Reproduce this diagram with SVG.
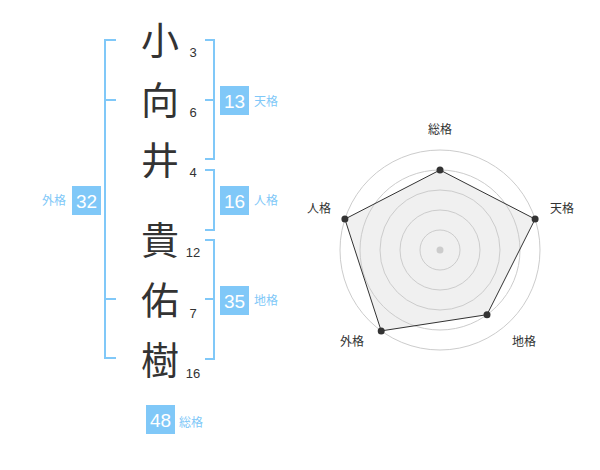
<svg xmlns="http://www.w3.org/2000/svg" width="600" height="470" viewBox="0 0 600 470">
<style>
.ch{font-family:"Noto Sans CJK JP","Noto Sans CJK SC",sans-serif;font-size:38px;fill:#333;text-anchor:middle}
.num{font-family:"Liberation Sans",Arial,sans-serif;font-size:13px;fill:#333;text-anchor:middle}
.br{fill:none;stroke:#80c8f8;stroke-width:2}
.box{fill:#80c8f8}
.bt{font-family:"Liberation Sans",Arial,sans-serif;font-size:19px;fill:#fff;text-anchor:middle}
.lb{font-family:"Noto Sans CJK JP","Noto Sans CJK SC",sans-serif;font-size:12px;fill:#80c8f8}
.rl{font-family:"Noto Sans CJK JP","Noto Sans CJK SC",sans-serif;font-size:12px;fill:#333;text-anchor:middle}
.ring{fill:none;stroke:#ccc;stroke-width:1}
.pt{fill:#333}
</style>
<rect width="600" height="470" fill="#fff"/>
<g id="connectors">
<path class="br" d="M116,40 H105 V358 H116 M105,100 H116 M105,299 H116"/>
<path class="br" d="M205,40 H214 V159 H205 M205,100 H214"/>
<path class="br" d="M205,170 H214 V230 H205"/>
<path class="br" d="M205,240 H214 V359 H205 M205,299 H214"/>
</g>
<g id="chars">
<g id="c1"><text class="ch" x="160" y="54">小</text><text class="num" x="193" y="57">3</text></g>
<g id="c2"><text class="ch" x="160" y="114">向</text><text class="num" x="193" y="117">6</text></g>
<g id="c3"><text class="ch" x="160" y="174">井</text><text class="num" x="193" y="177">4</text></g>
<g id="c4"><text class="ch" x="160" y="254">貴</text><text class="num" x="193" y="257">12</text></g>
<g id="c5"><text class="ch" x="160" y="314">佑</text><text class="num" x="193" y="318">7</text></g>
<g id="c6"><text class="ch" x="160" y="374">樹</text><text class="num" x="193" y="378">16</text></g>
</g>
<g id="tenkaku"><rect class="box" x="220" y="86" width="29" height="29"/><text class="bt" x="234.5" y="107.5">13</text><text class="lb" x="254" y="105.5">天格</text></g>
<g id="jinkaku"><rect class="box" x="220" y="186" width="29" height="29"/><text class="bt" x="234.5" y="207.5">16</text><text class="lb" x="254" y="205">人格</text></g>
<g id="chikaku"><rect class="box" x="220" y="286" width="29" height="29"/><text class="bt" x="234.5" y="307.5">35</text><text class="lb" x="254" y="305">地格</text></g>
<g id="gaikaku"><rect class="box" x="72" y="186" width="29" height="29"/><text class="bt" x="86.5" y="207.5">32</text><text class="lb" x="66" y="205" text-anchor="end">外格</text></g>
<g id="soukaku"><rect class="box" x="146" y="405" width="29" height="29"/><text class="bt" x="160.5" y="426.5">48</text><text class="lb" x="179" y="427">総格</text></g>
<g id="radar">
<polygon points="440,170 535.1,219.1 487,314.7 381.2,330.9 344.9,219.1" fill="#f0f0f0" stroke="none"/>
<circle class="ring" cx="440" cy="250" r="20"/>
<circle class="ring" cx="440" cy="250" r="40"/>
<circle class="ring" cx="440" cy="250" r="60"/>
<circle class="ring" cx="440" cy="250" r="80"/>
<circle class="ring" cx="440" cy="250" r="100"/>
<polygon points="440,170 535.1,219.1 487,314.7 381.2,330.9 344.9,219.1" fill="none" stroke="#333" stroke-width="1"/>
<circle cx="440" cy="250" r="3.5" fill="#ccc"/>
<circle class="pt" cx="440" cy="170" r="3.5"/>
<circle class="pt" cx="535.1" cy="219.1" r="3.5"/>
<circle class="pt" cx="487" cy="314.7" r="3.5"/>
<circle class="pt" cx="381.2" cy="330.9" r="3.5"/>
<circle class="pt" cx="344.9" cy="219.1" r="3.5"/>
<text class="rl" x="440" y="134">総格</text>
<text class="rl" x="562" y="212.5">天格</text>
<text class="rl" x="524" y="346">地格</text>
<text class="rl" x="352" y="346">外格</text>
<text class="rl" x="319" y="212.5">人格</text>
</g>
</svg>
